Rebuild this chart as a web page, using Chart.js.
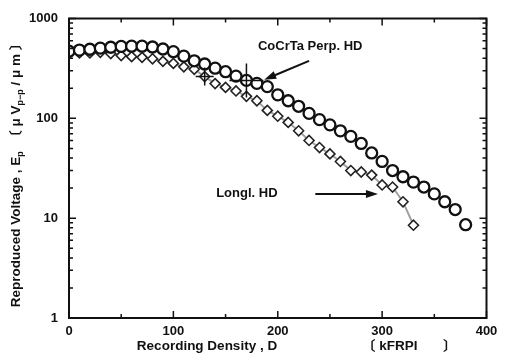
<!DOCTYPE html>
<html>
<head>
<meta charset="utf-8">
<script src="https://cdn.jsdelivr.net/npm/chart.js@4.4.1/dist/chart.umd.min.js"></script>
<style>
  html, body { margin: 0; padding: 0; background: #fff; }
  #wrap { width: 505px; height: 355px; }
</style>
</head>
<body>
<div id="wrap"><canvas id="grafico" width="505" height="355"></canvas></div>
<script>
// CoCrTa Perp. HD (circles)
const perpX = [0, 10, 20, 30, 40, 50, 60, 70, 80, 90, 100, 110, 120, 130, 140, 150, 160, 170, 180, 190,
  200, 210, 220, 230, 240, 250, 260, 270, 280, 290, 300, 310, 320, 330, 340, 350, 360, 370, 380];
const perpY = [470, 483, 492, 505, 515, 525, 528, 528, 518, 495, 465, 420, 377, 350, 318, 293, 265, 240, 224, 208,
  172, 150, 132, 112, 97, 86, 75, 66, 56, 45, 37, 30, 26, 23, 20.5, 17.5, 14.6, 12.2, 8.6];

// Longl. HD (diamonds)
const longX = [0, 10, 20, 30, 40, 50, 60, 70, 80, 90, 100, 110, 120, 130, 140, 150, 160, 170, 180, 190,
  200, 210, 220, 230, 240, 250, 260, 270, 280, 290, 300, 310, 320, 330];
const longY = [450, 452, 452, 458, 445, 425, 415, 408, 395, 372, 355, 328, 310, 262, 223, 204, 188, 166, 150, 120,
  105, 91, 75, 60, 51, 44, 37, 30, 29, 27, 21.5, 20.5, 14.6, 8.5];

// cross marks on the curves
const crossPerp = [{ x: 170, y: 239 }];
const crossLong = [{ x: 130, y: 262 }];

// ticks
const xTicks = [0, 50, 100, 150, 200, 250, 300, 350, 400];
const xTickLabels = [0, 100, 200, 300, 400];
const yTicks = [1, 2, 3, 4, 5, 6, 7, 8, 9, 10, 20, 30, 40, 50, 60, 70, 80, 90,
  100, 200, 300, 400, 500, 600, 700, 800, 900, 1000];
const yTickLabels = [1, 10, 100, 1000];

// annotations (data units)
const notePerp = { text: 'CoCrTa Perp. HD', x: 181, y: 520, from: { x: 230, y: 376 }, to: { x: 187, y: 244 } };
const noteLong = { text: 'Longl. HD', x: 141, y: 17.5, from: { x: 236, y: 17.5 }, to: { x: 296, y: 17.5 } };

const FAM = '"Liberation Sans", Arial, "Noto Sans CJK JP", sans-serif';
const FONT = 'bold 13.5px ' + FAM;
const INK = '#111';

function pontos(xs, ys) {
  return xs.map((x, i) => ({ x: x, y: ys[i] }));
}

function seta(ctx, x1, y1, x2, y2) {
  const ang = Math.atan2(y2 - y1, x2 - x1);
  const hl = 12, hw = 4;
  ctx.beginPath();
  ctx.moveTo(x1, y1);
  ctx.lineTo(x2 - Math.cos(ang) * hl * 0.8, y2 - Math.sin(ang) * hl * 0.8);
  ctx.lineWidth = 2;
  ctx.stroke();
  ctx.beginPath();
  ctx.moveTo(x2, y2);
  ctx.lineTo(x2 - Math.cos(ang) * hl + Math.sin(ang) * hw, y2 - Math.sin(ang) * hl - Math.cos(ang) * hw);
  ctx.lineTo(x2 - Math.cos(ang) * hl - Math.sin(ang) * hw, y2 - Math.sin(ang) * hl + Math.cos(ang) * hw);
  ctx.closePath();
  ctx.fill();
}

const moldura = {
  id: 'moldura',
  afterDraw(chart) {
    const { ctx, chartArea: a, scales } = chart;
    const sx = scales.x, sy = scales.y;
    ctx.save();
    ctx.strokeStyle = INK;
    ctx.fillStyle = INK;

    // frame
    ctx.lineWidth = 2;
    ctx.strokeRect(a.left, a.top, a.right - a.left, a.bottom - a.top);

    // inward ticks on four sides
    ctx.lineWidth = 1.5;
    yTicks.forEach(v => {
      const py = sy.getPixelForValue(v);
      const len = yTickLabels.includes(v) ? 7 : 4;
      ctx.beginPath();
      ctx.moveTo(a.left, py); ctx.lineTo(a.left + len, py);
      ctx.moveTo(a.right, py); ctx.lineTo(a.right - len, py);
      ctx.stroke();
    });
    xTicks.forEach(v => {
      const px = sx.getPixelForValue(v);
      const len = xTickLabels.includes(v) ? 7 : 4;
      ctx.beginPath();
      ctx.moveTo(px, a.bottom); ctx.lineTo(px, a.bottom - len);
      ctx.moveTo(px, a.top); ctx.lineTo(px, a.top + len);
      ctx.stroke();
    });

    // annotations
    ctx.font = 'bold 13px "Liberation Sans", Arial, sans-serif';
    ctx.textBaseline = 'middle';
    ctx.textAlign = 'left';
    [notePerp, noteLong].forEach(n => {
      ctx.fillText(n.text, sx.getPixelForValue(n.x), sy.getPixelForValue(n.y));
      seta(ctx, sx.getPixelForValue(n.from.x), sy.getPixelForValue(n.from.y),
        sx.getPixelForValue(n.to.x), sy.getPixelForValue(n.to.y));
    });

    // x title
    ctx.font = FONT;
    ctx.textAlign = 'center';
    ctx.fillText('Recording Density , D', 207, 346);
    ctx.textAlign = 'left';
    ctx.fillText('〔 kFRPI', 362, 346);
    ctx.fillText('〕', 443, 346);

    // y title with subscripts
    const partes = [
      ['Reproduced Voltage , E', false],
      ['p', true],
      ['  〔 μ V', false],
      ['p−p', true],
      [' / μ m 〕', false]
    ];
    const fSub = 'bold 9px "Liberation Sans", Arial, sans-serif';
    let total = 0;
    partes.forEach(p => { ctx.font = p[1] ? fSub : FONT; total += ctx.measureText(p[0]).width; });
    ctx.translate(16, 172);
    ctx.rotate(-Math.PI / 2);
    let cx = -total / 2;
    partes.forEach(p => {
      ctx.font = p[1] ? fSub : FONT;
      ctx.fillText(p[0], cx, p[1] ? 5 : 0);
      cx += ctx.measureText(p[0]).width;
    });
    ctx.restore();
  }
};

const ctx = document.getElementById('grafico').getContext('2d');
const grafico = new Chart(ctx, {
  type: 'scatter',
  data: {
    datasets: [
      {
        label: 'cross perp',
        data: crossPerp,
        pointStyle: 'cross',
        pointRadius: 17,
        borderWidth: 1.5,
        borderColor: INK
      },
      {
        label: 'cross long',
        data: crossLong,
        pointStyle: 'cross',
        pointRadius: 9,
        borderWidth: 1.5,
        borderColor: INK
      },
      {
        label: 'CoCrTa Perp. HD',
        data: pontos(perpX, perpY),
        pointStyle: 'circle',
        pointRadius: 5.5,
        borderWidth: 2.3,
        borderColor: INK,
        backgroundColor: '#fff'
      },
      {
        label: 'Longl. HD',
        data: pontos(longX, longY),
        pointStyle: 'rectRot',
        pointRadius: 5,
        borderWidth: 1.6,
        borderColor: '#222',
        backgroundColor: '#fff'
      },
      {
        label: 'Longl. HD trace',
        data: pontos(longX, longY),
        showLine: true,
        pointRadius: 0,
        borderWidth: 2,
        borderColor: '#a0a0a0'
      }
    ]
  },
  options: {
    responsive: false,
    animation: false,
    events: [],
    layout: { padding: { left: 0, right: 11, top: 14, bottom: 0 } },
    plugins: { legend: { display: false }, tooltip: { enabled: false } },
    scales: {
      x: {
        type: 'linear',
        min: 0,
        max: 400,
        grid: { display: false, drawTicks: false },
        border: { display: false },
        afterBuildTicks: s => { s.ticks = xTicks.map(v => ({ value: v })); },
        afterFit: s => { s.height = 37; s.paddingLeft = 0; s.paddingRight = 0; },
        ticks: {
          padding: 6,
          maxRotation: 0,
          autoSkip: false,
          color: INK,
          font: { family: '"Liberation Sans", Arial, sans-serif', size: 13, weight: 'bold' },
          callback: v => xTickLabels.includes(v) ? String(v) : ''
        }
      },
      y: {
        type: 'logarithmic',
        min: 1,
        max: 1000,
        grid: { display: false, drawTicks: false },
        border: { display: false },
        afterBuildTicks: s => { s.ticks = yTicks.map(v => ({ value: v })); },
        afterFit: s => { s.width = 69; s.paddingTop = 0; s.paddingBottom = 0; },
        ticks: {
          padding: 11,
          autoSkip: false,
          color: INK,
          font: { family: '"Liberation Sans", Arial, sans-serif', size: 13, weight: 'bold' },
          callback: v => yTickLabels.includes(v) ? String(v) : ''
        }
      }
    }
  },
  plugins: [moldura]
});
</script>
</body>
</html>
